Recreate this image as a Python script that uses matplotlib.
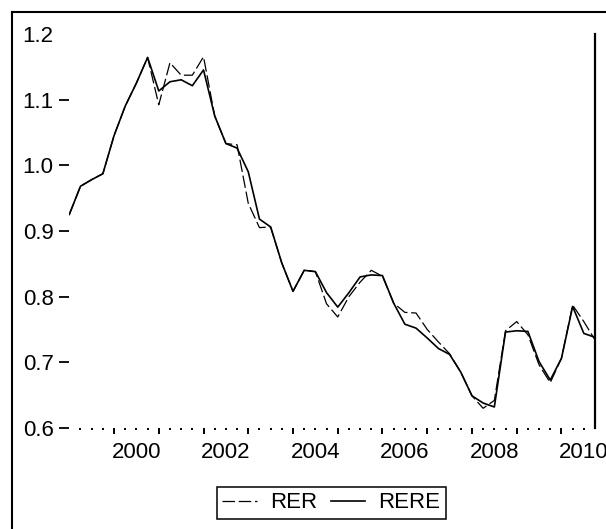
import matplotlib
matplotlib.use("Agg")
import matplotlib.pyplot as plt
from matplotlib.lines import Line2D
from matplotlib.ticker import FixedLocator, FixedFormatter
import numpy as np

plt.rcParams['font.family'] = ['Liberation Sans', 'DejaVu Sans']

# Quarterly data, 1999Q1 .. 2010Q4
start_year = 1999
rer = [0.925, 0.968, 0.978, 0.987, 1.045, 1.090, 1.125, 1.164,
       1.092, 1.156, 1.137, 1.137, 1.165, 1.075, 1.033, 1.031,
       0.942, 0.905, 0.906, 0.851, 0.808, 0.840, 0.838, 0.789,
       0.769, 0.800, 0.822, 0.840, 0.831, 0.790, 0.776, 0.775,
       0.750, 0.731, 0.713, 0.685, 0.649, 0.630, 0.642, 0.748,
       0.762, 0.742, 0.696, 0.669, 0.706, 0.787, 0.762, 0.734]
rere = [0.925, 0.968, 0.978, 0.987, 1.045, 1.090, 1.125, 1.164,
        1.113, 1.127, 1.130, 1.121, 1.145, 1.075, 1.033, 1.026,
        0.990, 0.918, 0.906, 0.851, 0.808, 0.840, 0.838, 0.806,
        0.784, 0.806, 0.830, 0.833, 0.832, 0.790, 0.758, 0.752,
        0.737, 0.721, 0.712, 0.685, 0.649, 0.638, 0.632, 0.746,
        0.748, 0.747, 0.701, 0.673, 0.706, 0.785, 0.744, 0.738]
y_ticks = [0.6, 0.7, 0.8, 0.9, 1.0, 1.1, 1.2]
y_labels = ["0.6", "0.7", "0.8", "0.9", "1.0", "1.1", "1.2"]
year_labels = ["2000", "2002", "2004", "2006", "2008", "2010"]

W, H = 606, 529
fig = plt.figure(figsize=(W / 100, H / 100), dpi=100)
ax = fig.add_axes([69.3 / W, 1 - 428 / H, (595 - 69.3) / W, (428 - 33.8) / H])

t = start_year + np.arange(len(rer)) * 0.25
ax.plot(t, rer, color='black', lw=0.9, dashes=(10, 3), label='RER')
ax.plot(t, rere, color='black', lw=1.2, label='RERE')

ax.set_xlim(t[0], t[-1])
ax.set_ylim(0.6, 1.2)

for s in ['left', 'top', 'bottom']:
    ax.spines[s].set_visible(False)
ax.spines['right'].set_linewidth(1.6)

ax.set_yticks(y_ticks)
ax.set_yticklabels(y_labels)
ax.tick_params(axis='y', direction='out', length=7, width=1.3, pad=4.3,
               labelsize=16, right=False)
ax.yaxis.get_major_ticks()[-1].tick1line.set_visible(False)

years = np.arange(2000, 2011)
ax.xaxis.set_major_locator(FixedLocator(years))
ax.xaxis.set_major_formatter(FixedFormatter([''] * len(years)))
quarters = [q for q in np.arange(1999.25, 2010.75, 0.25) if abs(q - round(q)) > 1e-6]
qlabels = []
for q in quarters:
    lab = ''
    if abs(q - np.floor(q) - 0.5) < 1e-6 and str(int(np.floor(q))) in year_labels:
        lab = str(int(np.floor(q)))
    qlabels.append(lab)
ax.xaxis.set_minor_locator(FixedLocator(quarters))
ax.xaxis.set_minor_formatter(FixedFormatter(qlabels))
ax.tick_params(axis='x', which='major', direction='out', length=4, width=1.4)
ax.tick_params(axis='x', which='minor', direction='out', length=1.6, width=1.4,
               pad=8.5, labelsize=16)

# Outer frame (partially cropped)
fig.add_artist(Line2D([12 / W, 12 / W], [0, 1 - 12 / H], transform=fig.transFigure,
                      color='black', lw=1.5))
fig.add_artist(Line2D([12 / W, 1], [1 - 12 / H, 1 - 12 / H], transform=fig.transFigure,
                      color='black', lw=1.5))

leg = fig.legend(loc='center', bbox_to_anchor=(331.5 / W, 1 - 503 / H), ncol=2,
                 fontsize=16, frameon=True, fancybox=False, framealpha=1,
                 edgecolor='black', handlelength=1.55, handletextpad=0.6,
                 columnspacing=0.6, borderpad=0.25, borderaxespad=0)
leg.get_frame().set_linewidth(1.1)

fig.savefig('out.png', dpi=100)
